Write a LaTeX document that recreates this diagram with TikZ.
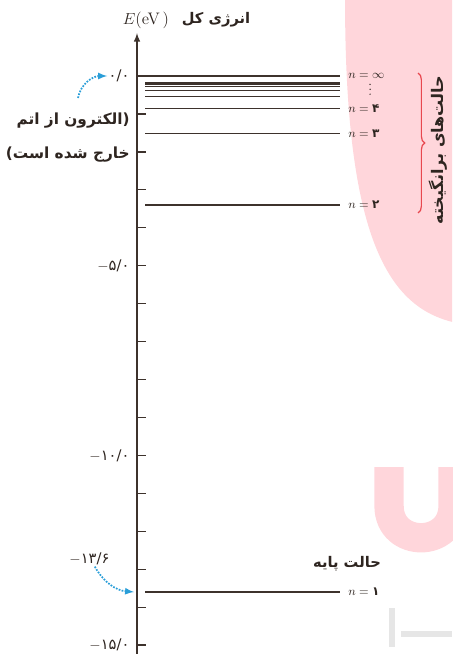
\documentclass[tikz,border=0pt]{standalone}
\usepackage{fontspec}
\usepackage{amsmath}
\usetikzlibrary{calc,arrows.meta,positioning}
\usetikzlibrary{decorations.pathreplacing}
\newfontfamily\fafont[Script=Arabic]{DejaVu Sans}
\TeXXeTstate=1
\definecolor{lv-text}{HTML}{2E2520}
\definecolor{lv-line}{HTML}{3D322C}
\definecolor{lv-pink}{HTML}{FFD6DB}
\definecolor{lv-red}{HTML}{E8474F}
\definecolor{lv-blue}{HTML}{2A9ED8}
\definecolor{lv-gray}{HTML}{E6E6E6}

\begin{document}
\begin{tikzpicture}[x=0.75pt, y=1cm, >=latex,
    level/.style={lv-line, line width=1pt},
    nlabel/.style={anchor=west, inner sep=0pt, lv-text, font=\small},
    elabel/.style={anchor=east, inner sep=1pt, lv-text, font=\fafont\fontsize{11}{13}\selectfont},
    falabel/.style={lv-text, inner sep=0pt, font=\fafont\bfseries\fontsize{11.5}{25.5}\selectfont},
    hint/.style={->, lv-blue, densely dotted, line width=1.3pt}]
        \useasboundingbox (0,2.003) rectangle (452,-15.234);
        % marks in the background
        \fill[lv-pink] (345,2.003) .. controls (345,-4.06) and (385,-6.04) .. (452,-6.48) -- (452,2.003) -- cycle;
        \draw[lv-pink, line width=22pt] (389,-10.31) -- (389,-11.33) .. controls (389,-12.45) and (453,-12.45) .. (453,-11.33) -- (453,-10.31);
        \draw[lv-gray, line width=5pt] (392,-14.02) -- (392,-15.05);
        \draw[lv-gray, line width=5pt] (401,-14.71) -- (452,-14.71);
        % axis and ticks
        \draw[->, lv-line, line width=1.2pt] (137,-15.234) -- (137,1.13);
        \foreach \e in {0,...,-15}
            \draw[lv-line, line width=1pt] (137,\e) -- (146,\e);
        \node[lv-text, inner sep=0pt, font=\fontsize{12.5}{14}\selectfont] (axisname) at (146,1.476) {$E$(eV\,)};
        \node[lv-text, inner sep=0pt, font=\fafont\bfseries\fontsize{11}{13}\selectfont] (axistitle) at (216,1.476) {\beginR انرژی کل\endR};
        % energy levels
        \draw[lv-line, line width=1.8pt] (145,0) -- (340,0);
        \foreach \n in {1,...,9}
            \draw[level] (145,{-13.6/(\n*\n)}) -- (340,{-13.6/(\n*\n)});
        \node[nlabel] (ninf) at (348,0) {$n=\infty$};
        \fill[lv-text] (370,-0.22) circle (0.55pt) (370,-0.35) circle (0.55pt) (370,-0.48) circle (0.55pt);
        \node[nlabel] (nfour) at (348,-0.85) {$n=\text{\fafont\bfseries ۴}$};
        \node[nlabel] (nthree) at (348,-1.51) {$n=\text{\fafont\bfseries ۳}$};
        \node[nlabel] (ntwo) at (348,-3.4) {$n=\text{\fafont\bfseries ۲}$};
        \node[nlabel] (none) at (348,-13.6) {$n=\text{\fafont\bfseries ۱}$};
        % values on the axis
        \node[elabel] (lblzero) at (131,0) {۰/۰};
        \node[elabel] (lblfive) at (131,-5) {$-$۵/۰};
        \node[elabel] (lblten) at (131,-10) {$-$۱۰/۰};
        \node[elabel] (lblfifteen) at (131,-15) {$-$۱۵/۰};
        \node[elabel] (lblground) at (111,-12.73) {$-$۱۳/۶};
        % notes
        \node[falabel, align=right, anchor=east] (freenote) at (130,-1.63) {\beginR(الکترون از اتم\endR\\ \beginR خارج شده است)\endR};
        \node[falabel, font=\fafont\bfseries\fontsize{11}{13}\selectfont] (groundname) at (347,-12.86) {\beginR حالت پایه\endR};
        \coordinate (bracetop) at (418,0.079);
        \coordinate (bracebot) at (418,-3.61);
        \draw[lv-red, line width=0.9pt, decorate, decoration={brace, amplitude=5pt}] (bracetop) -- (bracebot);
        \node[falabel, rotate=90, font=\fafont\bfseries\fontsize{12}{14}\selectfont] (excited) at (438,-1.95) {\beginR حالت‌های برانگیخته\endR};
        % dotted hints
        \coordinate (freestart) at (78,-0.58);
        \coordinate (gnd) at (134,-13.6);
        \draw[hint] (freestart) to[out=80, in=180] (lblzero.west);
        \draw[hint] ([xshift=4pt]lblground.south) to[out=-60, in=175] (gnd);
    \end{tikzpicture}
\end{document}
